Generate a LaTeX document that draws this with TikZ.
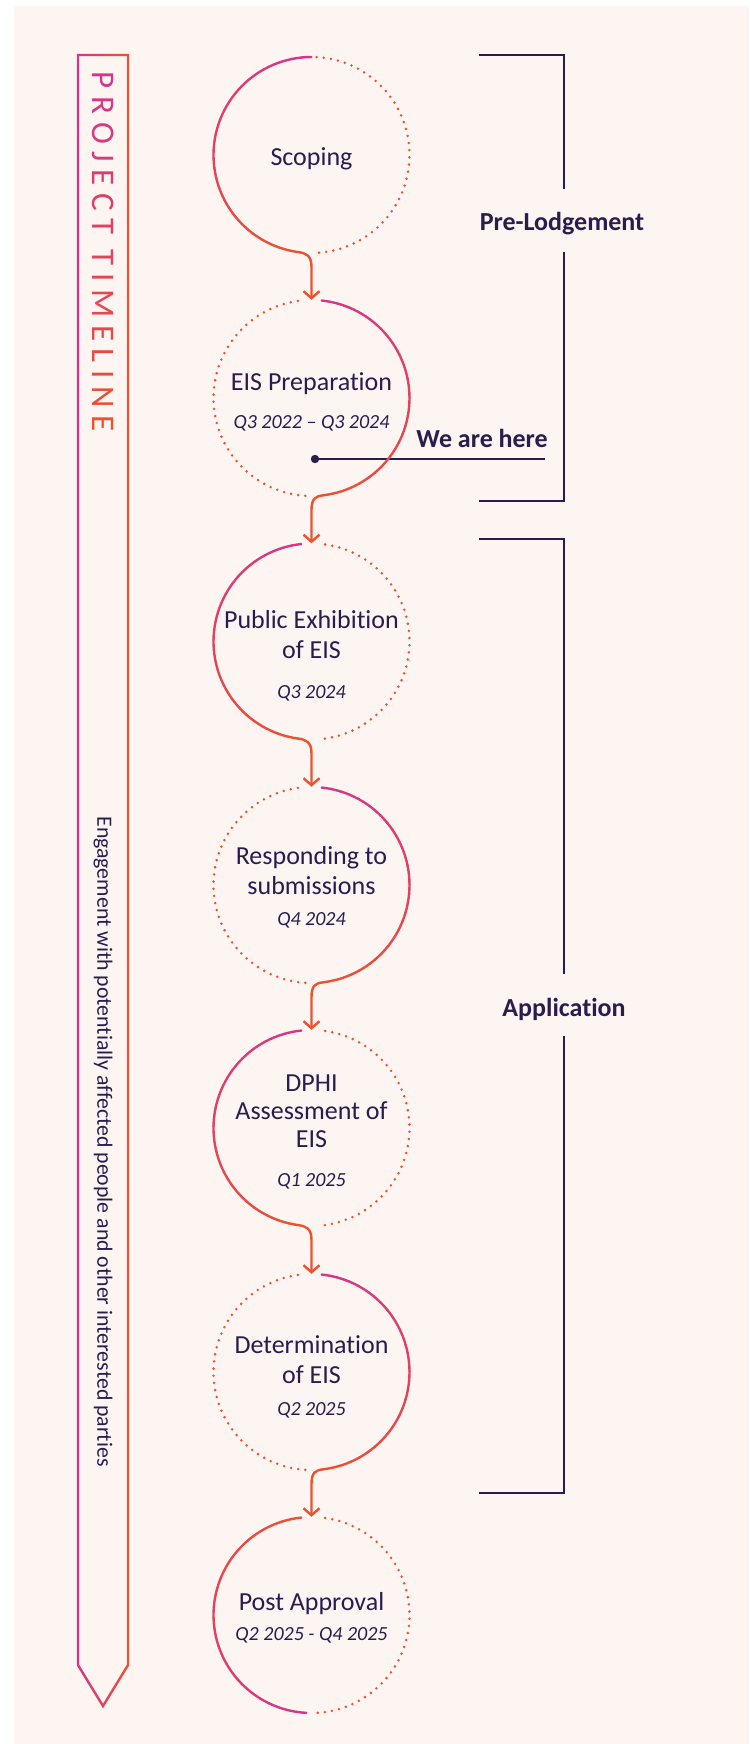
\documentclass[tikz,border=0pt]{standalone}
\usepackage{fontspec}
\setmainfont{Carlito}[Ligatures=NoCommon]
\definecolor{rose}{HTML}{D6358B}
\definecolor{flame}{HTML}{EC5230}
\definecolor{ink}{HTML}{2A1D4E}
\definecolor{cream}{HTML}{FDF5F2}
\usepackage{tikz}
\usetikzlibrary{arrows.meta,calc}

% arc cut in short pieces, colour running from #4 to #5
\newcommand{\fadearc}[5]{%
  \foreach \i in {1,...,30}{%
    \pgfmathsetmacro{\arcA}{#2+(#3-#2)*(\i-1)/30}%
    \pgfmathsetmacro{\arcB}{#2+(#3-#2)*\i/30}%
    \pgfmathtruncatemacro{\arcP}{100*(\i-0.5)/30}%
    \draw[ring, draw=#5!\arcP!#4] ($(#1)+(\arcA:98pt)$) arc[start angle=\arcA, end angle=\arcB, radius=98pt];
  }}
\newcommand{\tlt}[2]{\textcolor{flame!#1!rose}{#2}\kern7.6pt\relax}

\begin{document}
\begin{tikzpicture}[x=1pt, y=1pt,
  stage/.style={circle, minimum size=196pt, inner sep=0pt},
  ring/.style={line width=2.4pt, line cap=round},
  dots/.style={flame, line width=2.8pt, line cap=round, dash pattern=on 0pt off 7.2pt},
  link/.style={flame, line width=2.4pt, line cap=round, line join=round, -{Straight Barb[length=7pt, width=16pt]}},
  title/.style={font=\fontsize{26}{30}\selectfont, text=ink, align=center, inner sep=0pt, anchor=base},
  when/.style={font=\fontsize{20}{24}\selectfont\itshape, text=ink, inner sep=0pt, anchor=base},
  phase/.style={font=\fontsize{26}{30}\selectfont\bfseries, text=ink, inner sep=0pt, anchor=base},
  bracket/.style={ink, line width=2.4pt}]
\useasboundingbox (0,0) rectangle (749,-1744);
\fill[white] (0,0) rectangle (749,-1744);
\fill[cream] (14,-6) rectangle (749,-1744);

% side banner
\shade[left color=rose, right color=flame, even odd rule]
  (76.8,-53.8) -- (129.2,-53.8) -- (129.2,-1665.4) -- (103,-1708.3) -- (76.8,-1665.4) -- cycle
  (79.2,-56.2) -- (126.8,-56.2) -- (126.8,-1664.7) -- (103,-1703.7) -- (79.2,-1664.7) -- cycle;
\node[rotate=-90, inner sep=0pt, font=\fontsize{33}{33}\selectfont] (banner) at (103,-251.5)
  {\tlt{0}{P}\tlt{7}{R}\tlt{14}{O}\tlt{21}{J}\tlt{29}{E}\tlt{36}{C}\tlt{43}{T} \tlt{50}{T}\tlt{57}{I}\tlt{64}{M}\tlt{71}{E}\tlt{79}{L}\tlt{86}{I}\tlt{93}{N}\textcolor{flame}{E}};
\node[rotate=-90, inner sep=0pt, text=ink, font=\fontsize{21.8}{24}\selectfont] (engage) at (103,-1141.5)
  {Engagement with potentially affected people and other interested parties};

% phases
\node[phase] (prelodge) at (562,-230.4) {Pre-Lodgement};
\draw[bracket] (564,-189) -- (564,-55) -- (479,-55);
\draw[bracket] (564,-252) -- (564,-501) -- (479,-501);
\node[phase] (applic) at (564,-1016) {Application};
\draw[bracket] (564,-974) -- (564,-539) -- (479,-539);
\draw[bracket] (564,-1036) -- (564,-1493) -- (479,-1493);

% current position
\coordinate (here) at (315,-459);
\coordinate (hereend) at (545,-459);
\draw[bracket] (here) -- (hereend);
\fill[ink] (here) circle (4.2);
\node[phase, anchor=base east] (heretxt) at (548,-447) {We are here};

% stages
\node[stage] (scoping) at (311.5,-155) {};
\node[stage] (prep) at (311.5,-398) {};
\node[stage] (exhib) at (311.5,-641.5) {};
\node[stage] (respond) at (311.5,-885) {};
\node[stage] (assess) at (311.5,-1128) {};
\node[stage] (determ) at (311.5,-1372) {};
\node[stage] (post) at (311.5,-1615) {};

% titles sit on the baseline of their last line
\node[title] (scopingt) at (311.5,-166) {Scoping};
\node[title] (prept) at (311.5,-390) {EIS Preparation};
\node[when] (prepd) at (311.5,-428) {Q3 2022 – Q3 2024};
\node[title] (exhibt) at (311.5,-658) {Public Exhibition\\of EIS};
\node[when] (exhibd) at (311.5,-698) {Q3 2024};
\node[title] (respondt) at (311.5,-894.5) {Responding to\\submissions};
\node[when] (respondd) at (311.5,-925) {Q4 2024};
\node[title, font=\fontsize{26}{28}\selectfont] (assesst) at (311.5,-1147) {DPHI\\Assessment of\\EIS};
\node[when] (assessd) at (311.5,-1186) {Q1 2025};
\node[title] (determt) at (311.5,-1383) {Determination\\of EIS};
\node[when] (determd) at (311.5,-1415) {Q2 2025};
\node[title] (postt) at (311.5,-1610) {Post Approval};
\node[when] (postd) at (311.5,-1640) {Q2 2025 - Q4 2025};

\fadearc{scoping}{90}{262}{rose}{flame}
\draw[dots] ($(scoping)+(87:98pt)$) arc[start angle=87, end angle=-86, radius=98pt];
\draw[link] ($(scoping)+(262:98pt)$) .. controls +(8,-1) and ($(scoping.south)+(0,-2)$) .. ($(scoping.south)+(0,-14)$) -- (prep.north);

\draw[dots] ($(prep)+(98:98pt)$) arc[start angle=98, end angle=267, radius=98pt];
\fadearc{prep}{84}{-83}{rose}{flame}
\draw[link] ($(prep)+(-83:98pt)$) .. controls +(-8,-1) and ($(prep.south)+(0,-2)$) .. ($(prep.south)+(0,-14)$) -- (exhib.north);

\fadearc{exhib}{96}{262}{rose}{flame}
\draw[dots] ($(exhib)+(82:98pt)$) arc[start angle=82, end angle=-86, radius=98pt];
\draw[link] ($(exhib)+(262:98pt)$) .. controls +(8,-1) and ($(exhib.south)+(0,-2)$) .. ($(exhib.south)+(0,-14)$) -- (respond.north);

\draw[dots] ($(respond)+(98:98pt)$) arc[start angle=98, end angle=267, radius=98pt];
\fadearc{respond}{84}{-83}{rose}{flame}
\draw[link] ($(respond)+(-83:98pt)$) .. controls +(-8,-1) and ($(respond.south)+(0,-2)$) .. ($(respond.south)+(0,-14)$) -- (assess.north);

\fadearc{assess}{96}{262}{rose}{flame}
\draw[dots] ($(assess)+(82:98pt)$) arc[start angle=82, end angle=-86, radius=98pt];
\draw[link] ($(assess)+(262:98pt)$) .. controls +(8,-1) and ($(assess.south)+(0,-2)$) .. ($(assess.south)+(0,-14)$) -- (determ.north);

\draw[dots] ($(determ)+(98:98pt)$) arc[start angle=98, end angle=267, radius=98pt];
\fadearc{determ}{84}{-83}{rose}{flame}
\draw[link] ($(determ)+(-83:98pt)$) .. controls +(-8,-1) and ($(determ.south)+(0,-2)$) .. ($(determ.south)+(0,-14)$) -- (post.north);

\fadearc{post}{96}{267}{flame}{rose}
\draw[dots] ($(post)+(82:98pt)$) arc[start angle=82, end angle=-87, radius=98pt];
\end{tikzpicture}
\end{document}
